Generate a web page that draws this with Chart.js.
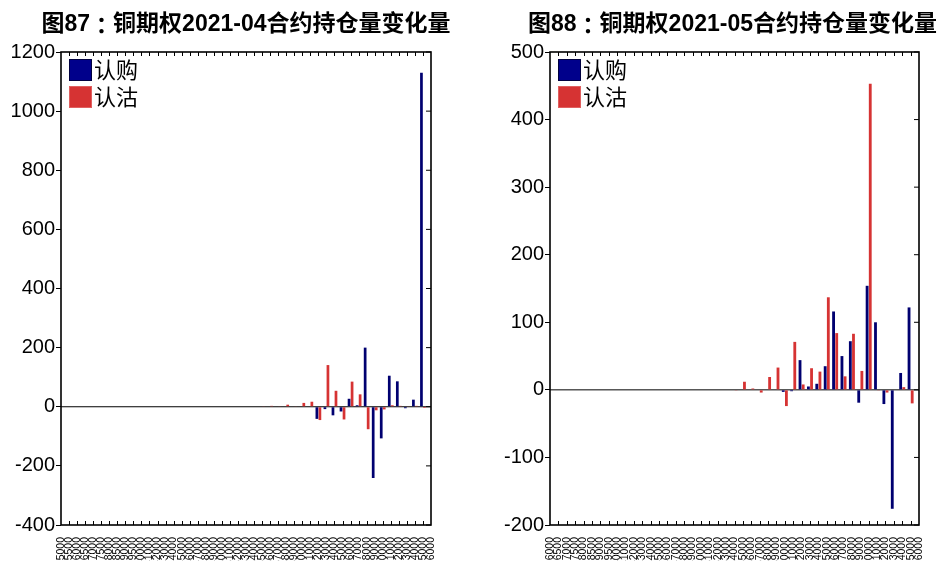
<!DOCTYPE html>
<html>
<head>
<meta charset="utf-8">
<script src="https://cdn.jsdelivr.net/npm/chart.js@4"></script>
<style>
  body { margin: 0; background: #fff; }
  .box { position: absolute; top: 0; height: 561px; }
</style>
</head>
<body>
<div class="box" style="left:0;width:471px"><canvas id="c87"></canvas></div>
<div class="box" style="left:471px;width:472px"><canvas id="c88"></canvas></div>
<script>
// 图87 — 2021-04 合约
const labels87 = ['35000','35500','36000','36500','37000','37500','38000','38500','39000','39500','40000',
  '41000','42000','43000','44000','45000','46000','47000','48000','49000','50000','51000','52000','53000',
  '54000','55000','56000','57000','58000','59000','60000','61000','62000','63000','64000','65000','66000',
  '67000','68000','69000','70000','71000','72000','73000','74000','75000','76000'];
const call87 = [0,0,0,0,0,0,0,0,0,0,
  0,0,0,0,0,0,0,0,0,0,
  0,0,0,0,0,0,0,0,0,0,
  0,0,-41,-8,-29,-16,27,5,200,-241,
  -107,105,86,-5,24,1130,0];
const put87 = [0,0,0,0,0,0,0,0,0,0,
  0,0,0,0,0,0,0,0,0,0,
  0,0,0,0,0,2,3,2,7,2,
  13,17,-45,141,54,-43,85,42,-76,-12,
  -9,5,3,2,3,-4,0];

// 图88 — 2021-05 合约
const labels88 = ['36000','36500','37000','37500','38000','38500','39000','39500','40000',
  '41000','42000','43000','44000','45000','46000','47000','48000','49000','50000','51000','52000','53000',
  '54000','55000','56000','57000','58000','59000','60000','61000','62000','63000','64000','65000','66000',
  '67000','68000','69000','70000','71000','72000','73000','74000','75000','76000'];
const call88 = [0,0,0,0,0,0,0,0,0,0,
  0,0,0,0,0,0,0,0,0,0,
  0,0,0,0,0,0,0,0,-3,-2,
  44,5,9,35,116,50,72,-19,154,100,
  -21,-176,25,122,0];
const put88 = [0,0,0,0,0,0,0,0,0,0,
  0,0,0,0,0,0,0,0,0,0,
  0,0,-1,12,2,-4,19,33,-24,71,
  8,32,27,137,84,20,83,28,453,-1,
  -4,0,4,-20,0];

const FONT = "'Liberation Sans', Arial, 'Noto Sans CJK SC', sans-serif";
const CALL_COLOR = '#000070';
const PUT_COLOR = '#d63333';

// title drawn in pieces so the full-width colon keeps its full width
function drawTitle(ctx, text, cx, cy) {
  const k = text.indexOf('：');
  const head = text.slice(0, k), tail = text.slice(k + 1);
  const latin = "bold 23px 'Liberation Sans', Arial, 'Noto Sans CJK SC', sans-serif";
  ctx.font = latin;
  const wHead = ctx.measureText(head).width;
  const wTail = ctx.measureText(tail).width;
  const wColon = 23;
  let x = cx - (wHead + wColon + wTail) / 2;
  ctx.textAlign = 'left';
  ctx.fillText(head, x, cy);
  x += wHead;
  ctx.font = "bold 23px 'Noto Sans CJK JP', sans-serif";
  ctx.textAlign = 'center';
  ctx.fillText('：', x + wColon / 2, cy);
  x += wColon;
  ctx.font = latin;
  ctx.textAlign = 'left';
  ctx.fillText(tail, x, cy);
}

// frame, inner ticks, zero line, title and legend
const framePlugin = {
  id: 'frame',
  beforeDatasetsDraw(chart) {
    const { ctx, chartArea: a, scales: { y } } = chart;
    const z = y.getPixelForValue(0);
    ctx.save();
    ctx.strokeStyle = '#000';
    ctx.lineWidth = 1;
    ctx.beginPath();
    ctx.moveTo(a.left, z);
    ctx.lineTo(a.right, z);
    ctx.stroke();
    ctx.restore();
  },
  afterDraw(chart, args, opts) {
    const { ctx, chartArea: a, scales: { x, y } } = chart;
    ctx.save();
    ctx.strokeStyle = '#000';
    ctx.lineWidth = 1;
    ctx.beginPath();
    const n = chart.data.labels.length;
    for (let i = 1; i < n - 1; i++) {
      const px = Math.round(x.getPixelForValue(i)) + 0.5;
      ctx.moveTo(px, a.top); ctx.lineTo(px, a.top + 4);
      ctx.moveTo(px, a.bottom); ctx.lineTo(px, a.bottom - 4);
    }
    y.ticks.forEach((t, i) => {
      const py = y.getPixelForTick(i);
      ctx.moveTo(a.right, py); ctx.lineTo(a.right - 5, py);
    });
    ctx.stroke();
    ctx.lineWidth = 1.6;
    ctx.strokeRect(a.left, a.top, a.right - a.left, a.bottom - a.top);

    ctx.fillStyle = '#000';
    ctx.textBaseline = 'middle';
    drawTitle(ctx, opts.title, (a.left + a.right) / 2 + opts.titleShift, 25);

    // legend
    ctx.font = "22px 'Noto Sans CJK SC', sans-serif";
    ctx.textAlign = 'left';
    chart.data.datasets.forEach((ds, i) => {
      const top = a.top + 7 + i * 27;
      ctx.fillStyle = i === 0 ? '#00008b' : ds.backgroundColor;
      ctx.fillRect(a.left + 8, top, 23, 22);
      ctx.lineWidth = 1;
      ctx.strokeStyle = i === 0 ? '#000040' : '#e06060';
      ctx.strokeRect(a.left + 8.5, top + 0.5, 22, 21);
      ctx.fillStyle = '#000';
      ctx.fillText(ds.label, a.left + 33, top + 11);
    });
    ctx.restore();
  }
};

function makeChart(id, labels, callData, putData, yMin, yMax, step, yWidth, padRight, title, titleShift) {
  return new Chart(document.getElementById(id), {
    type: 'bar',
    data: {
      labels: labels,
      datasets: [
        { label: '认购', data: callData, backgroundColor: CALL_COLOR, borderWidth: 0 },
        { label: '认沽', data: putData, backgroundColor: PUT_COLOR, borderWidth: 0 }
      ]
    },
    options: {
      responsive: true,
      maintainAspectRatio: false,
      animation: false,
      layout: { padding: { top: 52, right: padRight, bottom: 0, left: 0 } },
      datasets: { bar: { categoryPercentage: 0.75, barPercentage: 0.9 } },
      plugins: {
        legend: { display: false },
        tooltip: { enabled: false },
        frame: { title: title, titleShift: titleShift }
      },
      scales: {
        x: {
          offset: false,
          grid: { display: false },
          border: { display: false },
          ticks: {
            autoSkip: false, minRotation: 90, maxRotation: 90, padding: 4,
            color: '#000', font: { family: FONT, size: 10.5 }
          },
          afterFit(scale) { scale.height = 36; }
        },
        y: {
          min: yMin, max: yMax,
          grid: { drawOnChartArea: false, tickLength: 5, color: '#000' },
          border: { display: false },
          ticks: {
            stepSize: step, padding: 1, color: '#000', font: { family: FONT, size: 20 },
            callback: (v) => String(v)
          },
          afterFit(scale) { scale.width = yWidth; }
        }
      }
    },
    plugins: [framePlugin]
  });
}

makeChart('c87', labels87, call87, put87, -400, 1200, 200, 61, 40, '图87：铜期权2021-04合约持仓量变化量', 0);
makeChart('c88', labels88, call88, put88, -200, 500, 100, 79, 24, '图88：铜期权2021-05合约持仓量变化量', -2);
</script>
</body>
</html>
